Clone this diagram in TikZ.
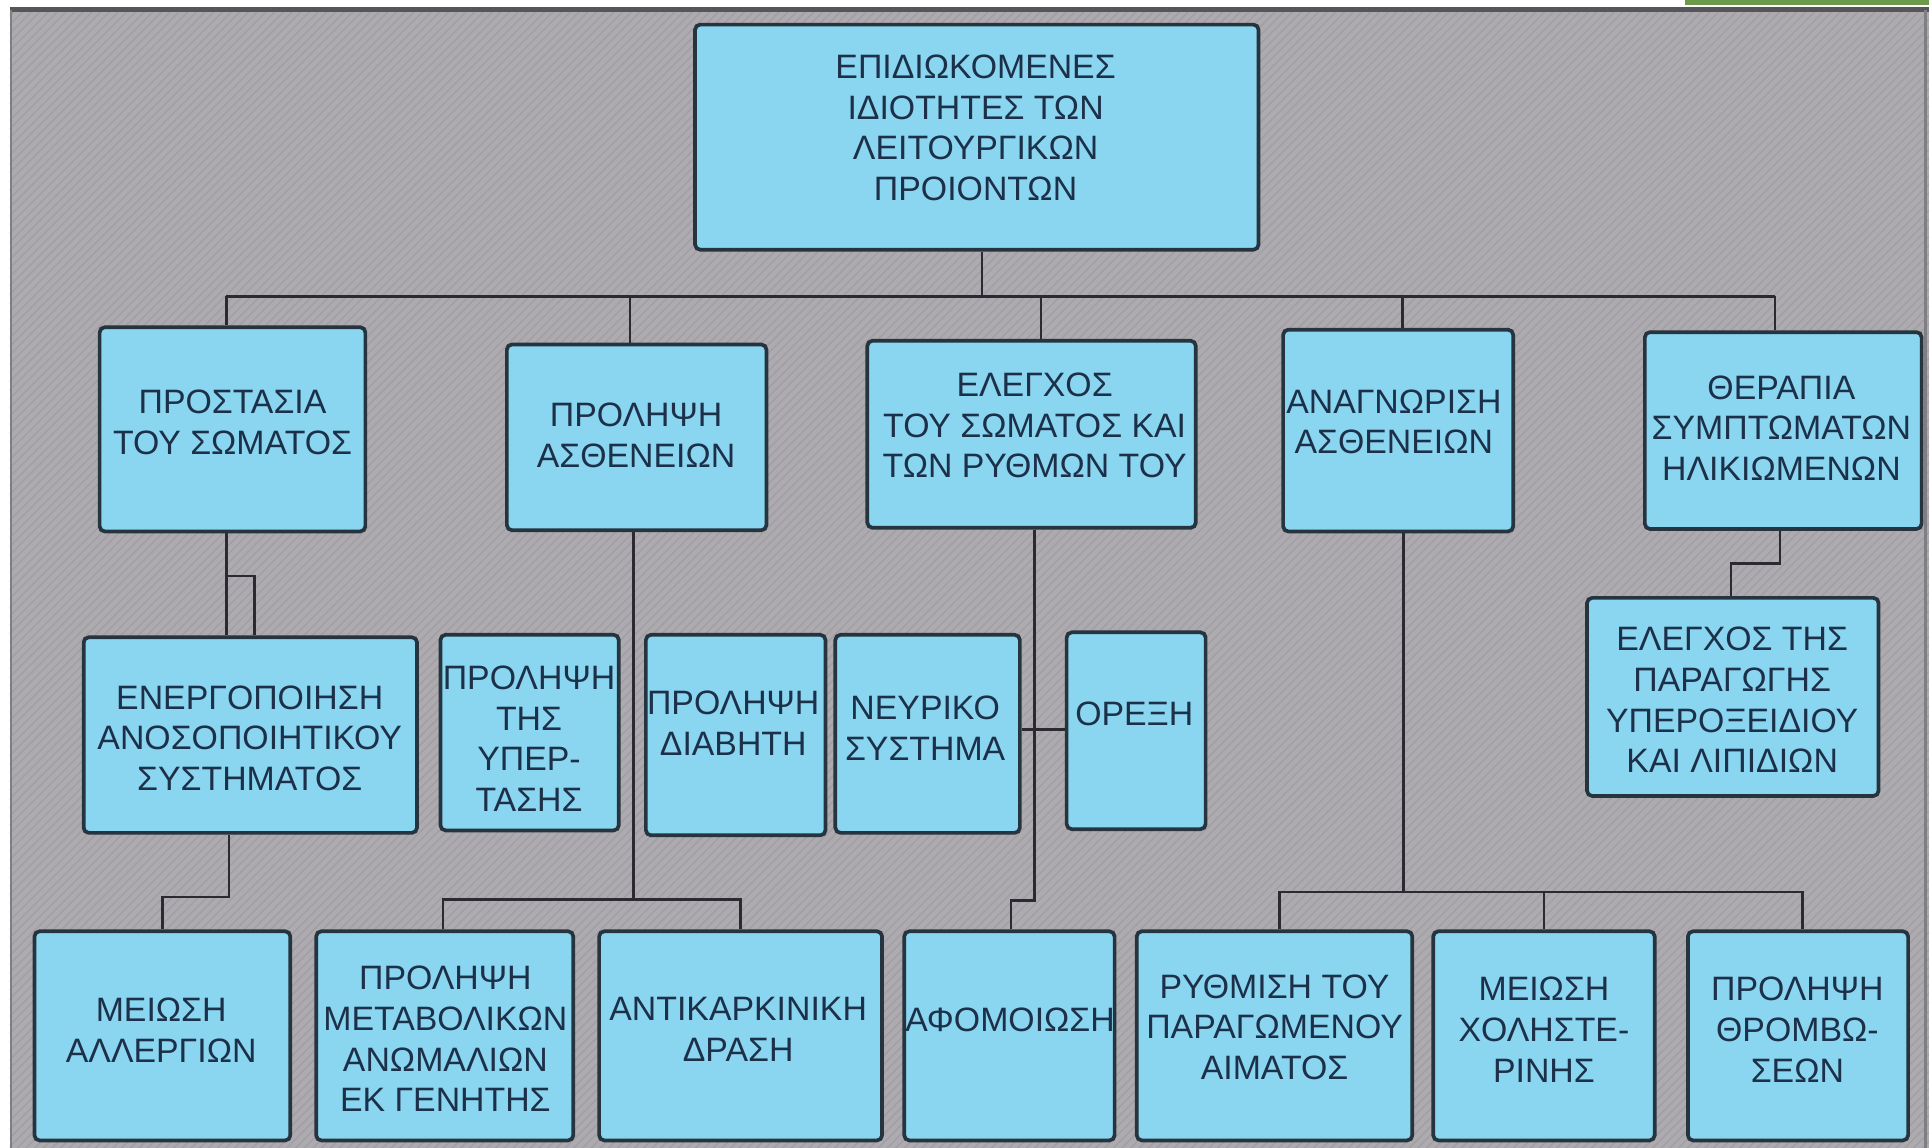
\documentclass[tikz,border=0pt]{standalone}
\usepackage{fontspec}
\setmainfont{Liberation Sans}
\usetikzlibrary{fit,patterns.meta}
\definecolor{bgcol}{HTML}{AEABB0}
\definecolor{bgline}{HTML}{A19EA4}
\definecolor{boxfill}{HTML}{8AD5EF}
\definecolor{boxline}{HTML}{25343F}
\definecolor{txtcol}{HTML}{1D3049}
\definecolor{linecol}{HTML}{2A2A30}
\definecolor{greenbar}{HTML}{6A9A4A}
\pgfdeclarelayer{back}
\pgfdeclarelayer{lines}
\pgfsetlayers{back,lines,main}
\tikzset{
  box/.style={draw=boxline, line width=1.8pt, fill=boxfill, rounded corners=2.5pt, inner sep=0pt},
  txt/.style={align=center, text=txtcol, font=\fontsize{16.5}{19.8}\selectfont, inner sep=0pt},
  conn/.style={draw=linecol, line width=1.2pt},
}
\begin{document}
\begin{tikzpicture}[x=0.6pt,y=-0.6pt]
\useasboundingbox (0,0) rectangle (1568,933);
% boxes
\node[box, fit={(565,20) (1023,203)}] (top) {};
\node[box, fit={(81,266) (297,432)}] (prost) {};
\node[box, fit={(412,280) (623,431)}] (prol) {};
\node[box, fit={(705,277) (972,429)}] (eleg) {};
\node[box, fit={(1043,268) (1230,432)}] (anag) {};
\node[box, fit={(1337,270) (1562,430)}] (ther) {};
\node[box, fit={(68,518) (339,677)}] (energ) {};
\node[box, fit={(358,516) (503,675)}] (yper) {};
\node[box, fit={(525,516) (671,679)}] (diab) {};
\node[box, fit={(679,516) (829,677)}] (neur) {};
\node[box, fit={(867,514) (980,674)}] (orex) {};
\node[box, fit={(1290,486) (1527,647)}] (lip) {};
\node[box, fit={(28,757) (236,927)}] (aller) {};
\node[box, fit={(257,757) (466,927)}] (metab) {};
\node[box, fit={(487,757) (717,927)}] (antik) {};
\node[box, fit={(735,757) (906,927)}] (afom) {};
\node[box, fit={(924,757) (1148,927)}] (ryth) {};
\node[box, fit={(1165,757) (1345,927)}] (chol) {};
\node[box, fit={(1372,757) (1551,927)}] (thromb) {};
% texts
\node[txt] (top-t) at (793,104) {ΕΠΙΔΙΩΚΟΜΕΝΕΣ\\ΙΔΙΟΤΗΤΕΣ ΤΩΝ\\ΛΕΙΤΟΥΡΓΙΚΩΝ\\ΠΡΟΙΟΝΤΩΝ};
\node[txt] (prost-t) at (189,343.5) {ΠΡΟΣΤΑΣΙΑ\\ΤΟΥ ΣΩΜΑΤΟΣ};
\node[txt] (prol-t) at (517,354) {ΠΡΟΛΗΨΗ\\ΑΣΘΕΝΕΙΩΝ};
\node[txt] (eleg-t) at (841,346) {ΕΛΕΓΧΟΣ\\ΤΟΥ ΣΩΜΑΤΟΣ ΚΑΙ\\ΤΩΝ ΡΥΘΜΩΝ ΤΟΥ};
\node[txt] (anag-t) at (1133,343) {ΑΝΑΓΝΩΡΙΣΗ\\ΑΣΘΕΝΕΙΩΝ};
\node[txt] (ther-t) at (1448,348) {ΘΕΡΑΠΙΑ\\ΣΥΜΠΤΩΜΑΤΩΝ\\ΗΛΙΚΙΩΜΕΝΩΝ};
\node[txt] (energ-t) at (203,600) {ΕΝΕΡΓΟΠΟΙΗΣΗ\\ΑΝΟΣΟΠΟΙΗΤΙΚΟΥ\\ΣΥΣΤΗΜΑΤΟΣ};
\node[txt] (yper-t) at (430,600.5) {ΠΡΟΛΗΨΗ\\ΤΗΣ\\ΥΠΕΡ-\\ΤΑΣΗΣ};
\node[txt] (diab-t) at (596,588) {ΠΡΟΛΗΨΗ\\ΔΙΑΒΗΤΗ};
\node[txt] (neur-t) at (752,592) {ΝΕΥΡΙΚΟ\\ΣΥΣΤΗΜΑ};
\node[txt] (orex-t) at (922,580) {ΟΡΕΞΗ};
\node[txt] (lip-t) at (1408,569) {ΕΛΕΓΧΟΣ ΤΗΣ\\ΠΑΡΑΓΩΓΗΣ\\ΥΠΕΡΟΞΕΙΔΙΟΥ\\ΚΑΙ ΛΙΠΙΔΙΩΝ};
\node[txt] (aller-t) at (131,837.5) {ΜΕΙΩΣΗ\\ΑΛΛΕΡΓΙΩΝ};
\node[txt] (metab-t) at (362,844.5) {ΠΡΟΛΗΨΗ\\ΜΕΤΑΒΟΛΙΚΩΝ\\ΑΝΩΜΑΛΙΩΝ\\ΕΚ ΓΕΝΗΤΗΣ};
\node[txt] (antik-t) at (600,836.5) {ΑΝΤΙΚΑΡΚΙΝΙΚΗ\\ΔΡΑΣΗ};
\node[txt] (afom-t) at (821,829) {ΑΦΟΜΟΙΩΣΗ};
\node[txt] (ryth-t) at (1036,835) {ΡΥΘΜΙΣΗ ΤΟΥ\\ΠΑΡΑΓΩΜΕΝΟΥ\\ΑΙΜΑΤΟΣ};
\node[txt] (chol-t) at (1255,837) {ΜΕΙΩΣΗ\\ΧΟΛΗΣΤΕ-\\ΡΙΝΗΣ};
\node[txt] (thromb-t) at (1461,837) {ΠΡΟΛΗΨΗ\\ΘΡΟΜΒΩ-\\ΣΕΩΝ};
% junction coordinates
\coordinate (busC) at (798,241);
\coordinate (busL) at (184,241);
\coordinate (busR) at (1443,241);
\coordinate (b2) at (512,241);
\coordinate (b3) at (846,241);
\coordinate (b4) at (1140,241);
\coordinate (pr1) at (184,468);
\coordinate (pr2) at (207,468);
\coordinate (en1) at (186,729);
\coordinate (en2) at (132,729);
\coordinate (pl1) at (515,731);
\coordinate (pl2) at (360,731);
\coordinate (pl3) at (602,731);
\coordinate (el1) at (841,732);
\coordinate (el2) at (822,732);
\coordinate (an1) at (1141,725);
\coordinate (an2) at (1040,725);
\coordinate (an3) at (1255,725);
\coordinate (an4) at (1465,725);
\coordinate (th1) at (1447,458);
\coordinate (th2) at (1407,458);
\coordinate (nx) at (841,593);
\begin{pgfonlayer}{back}
  \fill[white] (0,0) rectangle (1568,933);
  \fill[greenbar] (1370,0) rectangle (1568,4);
  \fill[bgcol] (8,6) rectangle (1568,933);
  \fill[pattern={Lines[angle=45,distance=3pt,line width=0.7pt]}, pattern color=bgline] (8,6) rectangle (1568,933);
  \draw[linecol!80, line width=2.4pt] (8,8) -- (1568,8);
  \draw[linecol!60, line width=1.2pt] (9,8) -- (9,933);
  \draw[linecol!60, line width=1.2pt] (1565,8) -- (1565,933);
\end{pgfonlayer}
\begin{pgfonlayer}{lines}
  \draw[conn] (top.south -| busC) -- (busC);
  \draw[conn, line width=1.6pt] (busL) -- (busR);
  \draw[conn] (busL) -- (busL |- prost.north);
  \draw[conn] (b2) -- (b2 |- prol.north);
  \draw[conn] (b3) -- (b3 |- eleg.north);
  \draw[conn] (b4) -- (b4 |- anag.north);
  \draw[conn] (busR) -- (busR |- ther.north);
  % protection
  \draw[conn] (prost.south -| busL) -- (energ.north -| busL);
  \draw[conn] (pr1) -- (pr2) -- (pr2 |- energ.north);
  \draw[conn] (energ.south -| en1) -- (en1) -- (en2) -- (en2 |- aller.north);
  % prevention
  \draw[conn] (prol.south -| pl1) -- (pl1);
  \draw[conn] (pl2 |- metab.north) -- (pl2) -- (pl3) -- (pl3 |- antik.north);
  % control
  \draw[conn] (eleg.south -| el1) -- (el1) -- (el2) -- (el2 |- afom.north);
  \draw[conn] (neur.east |- nx) -- (orex.west |- nx);
  % recognition
  \draw[conn] (anag.south -| an1) -- (an1);
  \draw[conn] (an2 |- ryth.north) -- (an2) -- (an4) -- (an4 |- thromb.north);
  \draw[conn] (an3) -- (an3 |- chol.north);
  % therapy
  \draw[conn] (ther.south -| th1) -- (th1) -- (th2) -- (th2 |- lip.north);
\end{pgfonlayer}
\end{tikzpicture}
\end{document}
